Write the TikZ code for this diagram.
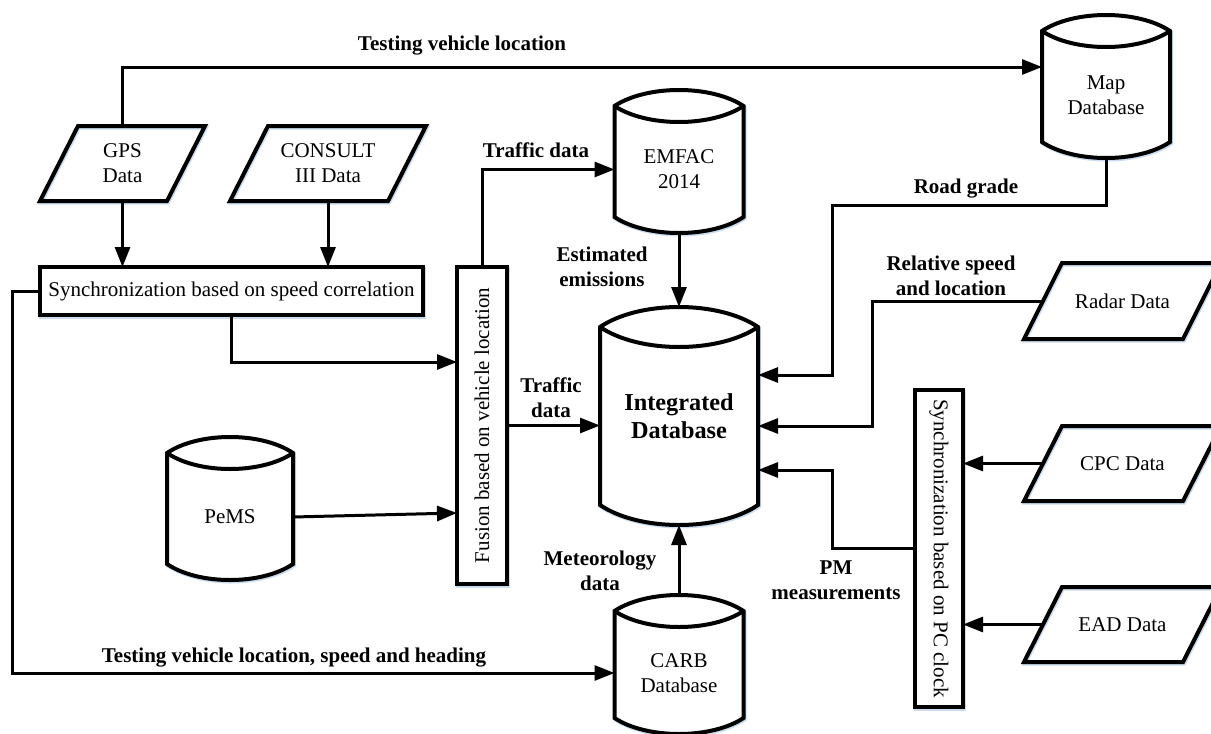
\documentclass[tikz,border=0pt]{standalone}
\usepackage{fontspec}
\setmainfont{Liberation Serif}
\usepackage{graphicx}
\usetikzlibrary{arrows.meta,calc}
\definecolor{shadowblue}{HTML}{C9DCF0}

% database cylinder: name, centre x, centre y, width, total height, end bulge, text drop, text
\newcommand\dbase[8]{%
  \node[minimum width=#4pt, minimum height=#5pt, inner sep=0pt, outer sep=0pt] (#1) at (#2,#3) {};
  \coordinate (#1-body) at (#2,#3+#7);
  \draw[outline, haze, fill=white] ($(#1.north west)+(0,#6)$) coordinate (#1-a)
    .. controls ($(#1-a)+(#4/4,-4*#6/3)$) and ($(#1-a)+(3*#4/4,-4*#6/3)$) .. ($(#1.north east)+(0,#6)$) coordinate (#1-b)
    -- ($(#1.south east)+(0,-#6)$) coordinate (#1-c)
    .. controls ($(#1-c)+(-#4/4,4*#6/3)$) and ($(#1-c)+(-3*#4/4,4*#6/3)$) .. ($(#1.south west)+(0,-#6)$)
    -- cycle;
  \draw[outline] (#1-a) .. controls ($(#1-a)+(#4/4,4*#6/3)$) and ($(#1-a)+(3*#4/4,4*#6/3)$) .. (#1-b);
  \node[txt, #1-font/.try] (#1-text) at (#1-body) {#8};
}

% slanted data source: name, centre x, centre y, width, height, text
\newcommand\datain[6]{%
  \node[txt, minimum width=#4pt, minimum height=#5pt, outer sep=0pt] (#1) at (#2,#3) {#6};
  \draw[outline, haze] (#1.south west) -- ($(#1.south east)+(-38,0)$) -- (#1.north east)
    -- ($(#1.north west)+(38,0)$) -- cycle;
}

\begin{document}
\begin{tikzpicture}[x=1pt, y=-1pt,
  outline/.style={line width=4pt, line join=miter},
  haze/.style={preaction={draw=shadowblue, line width=4pt, transform canvas={xshift=1pt, yshift=-1.5pt}}},
  link/.style={line width=3pt, -{Triangle[length=20pt, width=15pt]}},
  txt/.style={font=\fontsize{21}{25}\selectfont, align=center, inner sep=0pt},
  lbl/.style={font=\fontsize{21}{25}\selectfont\bfseries, align=center, inner sep=0pt},
  integ-font/.style={font=\fontsize{24.3}{28}\selectfont\bfseries},
  boxnode/.style={draw, outline, haze, fill=white, txt, outer sep=0pt}]

\fill[white] (0,0) rectangle (1211,734);
\useasboundingbox (0,0) rectangle (1211,734);

% data sources
\datain{gps}{122.5}{163.5}{165}{75}{GPS\\Data}
\datain{consult}{328}{163.5}{196}{75}{CONSULT\\III Data}
\datain{radar}{1122.5}{301}{197}{76}{Radar Data}
\datain{cpc}{1122.5}{463.5}{197}{75}{CPC Data}
\datain{ead}{1122.5}{624.5}{197}{75}{EAD Data}

% processing steps
\node[boxnode, minimum width=383pt, minimum height=48pt] (sync) at (231.5,291)
  {Synchronization based on speed correlation};
\node[boxnode, minimum width=50pt, minimum height=317pt] (fusion) at (482,425.5)
  {\rotatebox{90}{Fusion based on vehicle location}};
\node[boxnode, minimum width=48pt, minimum height=317pt] (pcsync) at (939,548.5)
  {\rotatebox{-90}{Synchronization based on PC clock}};

% databases
\dbase{map}{1106}{86.5}{128}{143}{16}{9}{Map\\Database}
\dbase{emfac}{679}{161.5}{129}{143}{16}{8}{EMFAC\\2014}
\dbase{pems}{230}{508.5}{126}{143}{16}{8.5}{PeMS}
\dbase{carb}{679}{664.5}{129}{139}{16}{8.5}{CARB\\Database}
\dbase{integ}{679}{416}{158}{218}{20}{0}{Integrated\\Database}

% connectors
\draw[link] (gps.north) |- ([yshift=19.5pt]map.west);
\draw[link] (gps.south) -- (gps.south |- sync.north);
\draw[link] (consult.south) -- (consult.south |- sync.north);
\draw[link] (sync.south) |- ([yshift=63.5pt]fusion.west);
\draw[link] (sync.west) -- ++(-28,0) |- (carb.west |- carb-body);
\draw[link] (pems.east |- pems-body) -- ([yshift=4pt]fusion.west |- pems-body);
\draw[link] (fusion.north) |- (emfac.west |- emfac-body);
\draw[link] (fusion.east) -- (fusion.east -| integ.west);
\draw[link] (emfac.south) -- (integ.north);
\draw[link] (carb.north) -- (integ.south);
\draw[link] (map.south) -- ++(0,47) -- ++(-274,0) |- ([yshift=41pt]integ.east);
\draw[link] ([xshift=19pt]radar.west) -- ++(-171,0) |- ([yshift=-10pt]integ.east);
\draw[link] (pcsync.west) -- ++(-83,0) |- ([yshift=-54pt]integ.east);
\draw[link] ([xshift=19pt]cpc.west) -- (cpc.west -| pcsync.east);
\draw[link] ([xshift=19pt]ead.west) -- (ead.west -| pcsync.east);

% connector labels
\node[lbl] (lbl-gpsmap) at (462,46) {Testing vehicle location};
\node[lbl] (lbl-emfac) at (536,150) {Traffic data};
\node[lbl] (lbl-emis) at (602,267) {Estimated\\emissions};
\node[lbl] (lbl-grade) at (966,189) {Road grade};
\node[lbl] (lbl-radar) at (951,276) {Relative speed\\and location};
\node[lbl] (lbl-traffic) at (551,398) {Traffic\\data};
\node[lbl] (lbl-met) at (600,571) {Meteorology\\data};
\node[lbl] (lbl-pm) at (836,580) {PM\\measurements};
\node[lbl] (lbl-carb) at (294,658) {Testing vehicle location, speed and heading};
\end{tikzpicture}
\end{document}
